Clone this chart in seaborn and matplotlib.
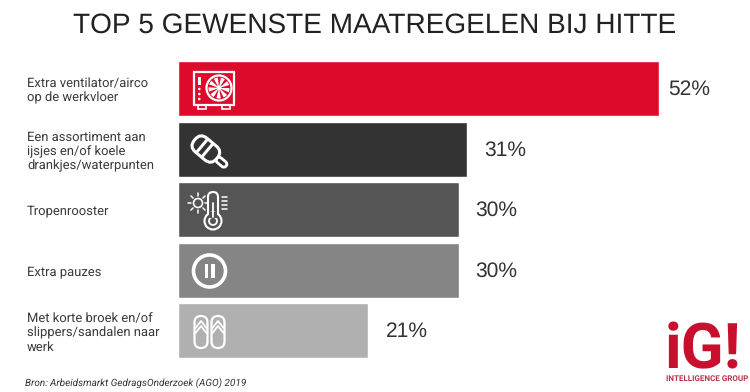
import numpy as np
import pandas as pd
import matplotlib
matplotlib.use("Agg")
import matplotlib.pyplot as plt
from matplotlib.patches import Circle, FancyBboxPatch, Rectangle, Wedge, Polygon
from matplotlib.transforms import Affine2D
import seaborn as sns

categories = ["Extra ventilator/airco\nop de werkvloer",
              "Een assortiment aan\nijsjes en/of koele\ndrankjes/waterpunten",
              "Tropenrooster",
              "Extra pauzes",
              "Met korte broek en/of\nslippers/sandalen naar\nwerk"]
values = [52.0, 31.3, 30.4, 30.4, 20.6]
value_labels = ["52%", "31%", "30%", "30%", "21%"]
colors = ["#DE0A2B", "#333333", "#555555", "#858585", "#B0B0B0"]
title = "TOP 5 GEWENSTE MAATREGELEN BIJ HITTE"
source = "Bron: Arbeidsmarkt GedragsOnderzoek (AGO) 2019"

sns.set_theme(style="white")
plt.rcParams["font.family"] = ["Roboto", "DejaVu Sans"]
plt.rcParams["text.hinting"] = "no_hinting"
plt.rcParams["text.hinting_factor"] = 1

W, H = 750, 392
fig = plt.figure(figsize=(W / 100, H / 100), dpi=100, facecolor="white")

ax = fig.add_axes([177.5 / W, 1 - 360.9 / H, 555 / W, 302.5 / H])
df = pd.DataFrame({"cat": categories, "val": values})
sns.barplot(data=df, x="val", y="cat", hue="cat", palette=colors, legend=False,
            width=55 / 60.5, saturation=1, ax=ax, dodge=False)
ax.set_xlim(0, 60)
ax.set_ylim(4.5, -0.5)
ax.set_xlabel("")
ax.set_ylabel("")
ax.set_xticks([])
sns.despine(ax=ax, left=True, bottom=True)
ax.tick_params(axis="y", length=0, pad=150.5 * 0.72)
for lab in ax.get_yticklabels():
    lab.set_ha("left")
    lab.set_fontsize(9.65)
    lab.set_color("#3a3a3a")
    lab.set_linespacing(1.18)

offsets = [10, 17, 17, 17, 18]
for i, (v, t) in enumerate(zip(values, value_labels)):
    ax.annotate(t, (v, i), xytext=(offsets[i] * 0.72, -0.7), textcoords="offset points",
                va="center", ha="left", fontsize=14.8, color="#333333",
                family=["Liberation Sans"])

fig.text(374.5 / W, 1 - 25 / H, title, ha="center", va="center", fontsize=20.5,
         color="#222222", family=["Liberation Sans"])
fig.text(25 / W, 1 - 383 / H, source, ha="left", va="center", fontsize=7.15,
         style="italic", color="#333333")

# logo
fig.text(665 / W, 1 - 368 / H, "iG!", ha="left", va="baseline", fontsize=45,
         weight="bold", color="#C8102E", family=["Roboto"])
fig.text(666 / W, 1 - 378.5 / H, "INTELLIGENCE GROUP", ha="left", va="center", fontsize=5.9,
         weight="bold", color="#B5354B")

# overlay for decorative icons, in pixel units
ov = fig.add_axes([0, 0, 1, 1], facecolor="none")
ov.set_xlim(0, W)
ov.set_ylim(H, 0)
ov.axis("off")
W_ = "white"

# 1. fan unit
ov.add_patch(Rectangle((194, 72), 40, 33, fill=False, ec=W_, lw=1.6))
ov.add_patch(Rectangle((198, 105), 8, 3.5, fill=False, ec=W_, lw=1.2))
ov.add_patch(Rectangle((222, 105), 8, 3.5, fill=False, ec=W_, lw=1.2))
ov.add_patch(Circle((219, 88), 12.5, fill=False, ec=W_, lw=1.6))
for a in np.arange(0, 360, 40):
    ov.add_patch(Wedge((219, 88), 10.5, a, a + 24, fc=W_, ec="none"))
ov.add_patch(Circle((219, 88), 2.5, fc=W_, ec="none"))
ov.add_patch(Rectangle((198, 77), 2.6, 8, fc=W_, ec="none"))
for y in (89, 94, 99):
    ov.add_patch(Circle((199.3, y), 1.3, fc=W_, ec="none"))

# 2. popsicle, rotated
rot = Affine2D().rotate_deg_around(207, 150, 40) + ov.transData
ov.add_patch(FancyBboxPatch((191, 141), 29, 18, boxstyle="round,pad=0,rounding_size=8.5",
                            fc="none", ec=W_, lw=2.2, transform=rot))
ov.add_patch(FancyBboxPatch((220, 147), 12, 6, boxstyle="round,pad=0,rounding_size=3",
                            fc="#333333", ec=W_, lw=2, transform=rot))
ov.add_patch(Rectangle((199, 141), 3, 18, fc=W_, ec="none", transform=rot))
ov.add_patch(Rectangle((206, 141), 3, 18, fc=W_, ec="none", transform=rot))

# 3. sun & thermometer
ov.add_patch(Circle((198, 203), 4.5, fill=False, ec=W_, lw=1.2))
for a in np.arange(0, 360, 45):
    c, s = np.cos(np.radians(a)), np.sin(np.radians(a))
    ov.plot([198 + 7 * c, 198 + 10 * c], [203 + 7 * s, 203 + 10 * s], color=W_, lw=1.1)
ov.add_patch(FancyBboxPatch((208, 192), 10, 30, boxstyle="round,pad=0,rounding_size=5",
                            fc="#555555", ec=W_, lw=1.5))
ov.add_patch(Circle((213, 221), 8.5, fc="#555555", ec=W_, lw=1.5))
ov.add_patch(Circle((213, 221), 4, fill=False, ec=W_, lw=1.3))
ov.add_patch(Rectangle((209.2, 212), 7.6, 6, fc="#555555", ec="none"))
ov.plot([213, 213], [203, 217], color=W_, lw=1.3)
for y in (197, 201, 205, 209):
    ov.plot([222, 227], [y, y], color=W_, lw=1.1)

# 4. pause
ov.add_patch(Circle((209.5, 271), 16, fill=False, ec=W_, lw=2.6))
ov.add_patch(Rectangle((204.5, 264), 3.5, 14, fc=W_, ec="none"))
ov.add_patch(Rectangle((211, 264), 3.5, 14, fc=W_, ec="none"))

# 5. slippers
for cx in (201, 218):
    ov.add_patch(FancyBboxPatch((cx - 6.5, 316), 13, 32, boxstyle="round,pad=0,rounding_size=6.5",
                                fc="none", ec=W_, lw=1.6))
    for dy in (0, 5):
        ov.plot([cx - 5.5, cx, cx + 5.5], [328 + dy, 321 + dy, 328 + dy], color=W_, lw=1.3)

fig.savefig("out.png", dpi=100)
